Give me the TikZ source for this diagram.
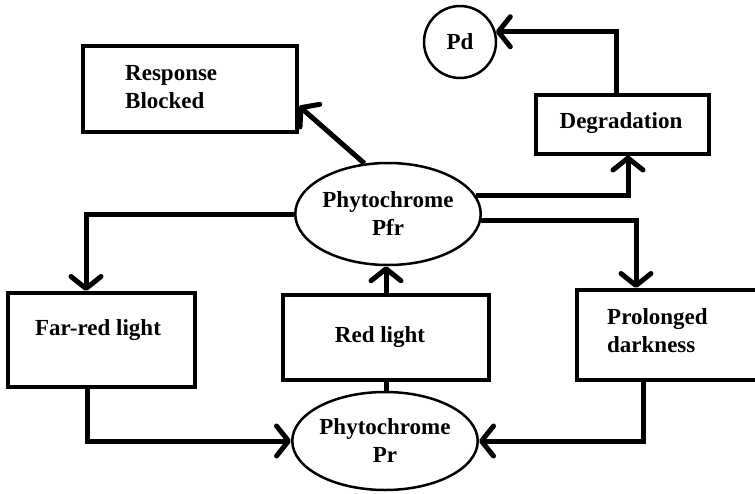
\documentclass[tikz,border=0pt]{standalone}
\usepackage{fontspec}
\setmainfont{Liberation Serif}
\usetikzlibrary{arrows.meta,shapes.geometric}
\begin{document}
\begin{tikzpicture}[x=1pt,y=-1pt,
  box/.style={draw,line width=4pt,rectangle,inner sep=0pt},
  txt/.style={font=\fontsize{23}{28}\selectfont\bfseries,align=left,inner sep=0pt},
  oval/.style={draw,line width=2.5pt,ellipse,inner sep=0pt,align=center,font=\fontsize{23}{28}\selectfont\bfseries},
  conn/.style={line width=5pt,-{Straight Barb[length=12pt,width=30pt,line width=5pt,round]}},
  plainconn/.style={line width=5pt}]
\useasboundingbox (0,0) rectangle (755,493);
\clip (0,0) rectangle (755,493);

% nodes
\node[box,minimum width=214pt,minimum height=86pt] (resp) at (190,89) {};
\node[txt,anchor=west] (resptxt) at (125,87) {Response\\Blocked};

\node[draw,circle,line width=2.5pt,minimum size=72pt,inner sep=0pt,
      font=\fontsize{23}{28}\selectfont\bfseries] (pd) at (460,42) {Pd};

\node[box,minimum width=173pt,minimum height=59pt] (deg) at (622.5,124) {};
\node[txt] (degtxt) at (621,123) {Degradation};

\node[oval,minimum width=173pt,minimum height=102pt] (pfr) at (388,214) {Phytochrome\\Pfr};

\node[box,minimum width=187pt,minimum height=94pt] (far) at (101.5,340) {};
\node[txt] (fartxt) at (98,330) {Far-red light};

\node[box,minimum width=206pt,minimum height=85pt] (red) at (386,337) {};
\node[txt] (redtxt) at (380,337) {Red light};

\node[box,minimum width=183pt,minimum height=90pt] (prol) at (668.5,335) {};
\node[txt,anchor=west] (proltxt) at (607,331) {Prolonged\\darkness};

\node[oval,minimum width=170pt,minimum height=98pt] (pr) at (385,441) {Phytochrome\\Pr};

% helper coordinates
\coordinate (c1) at (86,0);
\coordinate (c2) at (87,0);
\coordinate (c4) at (628,0);
\coordinate (c5) at (636,0);
\coordinate (c6) at (616,0);
\coordinate (c7) at (643,0);
\coordinate (c3) at (299,106);

% connectors
\draw[conn] (pfr.115) -- (c3);
\draw[conn] (pfr.west) -| (c1 |- far.north);
\draw[conn] (c2 |- far.south) |- (pr.west);
\draw[conn] (red.north) -- (red.north |- pfr.south);
\draw[plainconn] (red.south) -- (red.south |- pr.north);
\draw[conn] (pfr.12) -| (c4 |- deg.south);
\draw[conn] (pfr.-4) -| (c5 |- prol.north);
\draw[conn] (c6 |- deg.north) |- (pd.16);
\draw[conn] (c7 |- prol.south) |- (pr.east);
\end{tikzpicture}
\end{document}
